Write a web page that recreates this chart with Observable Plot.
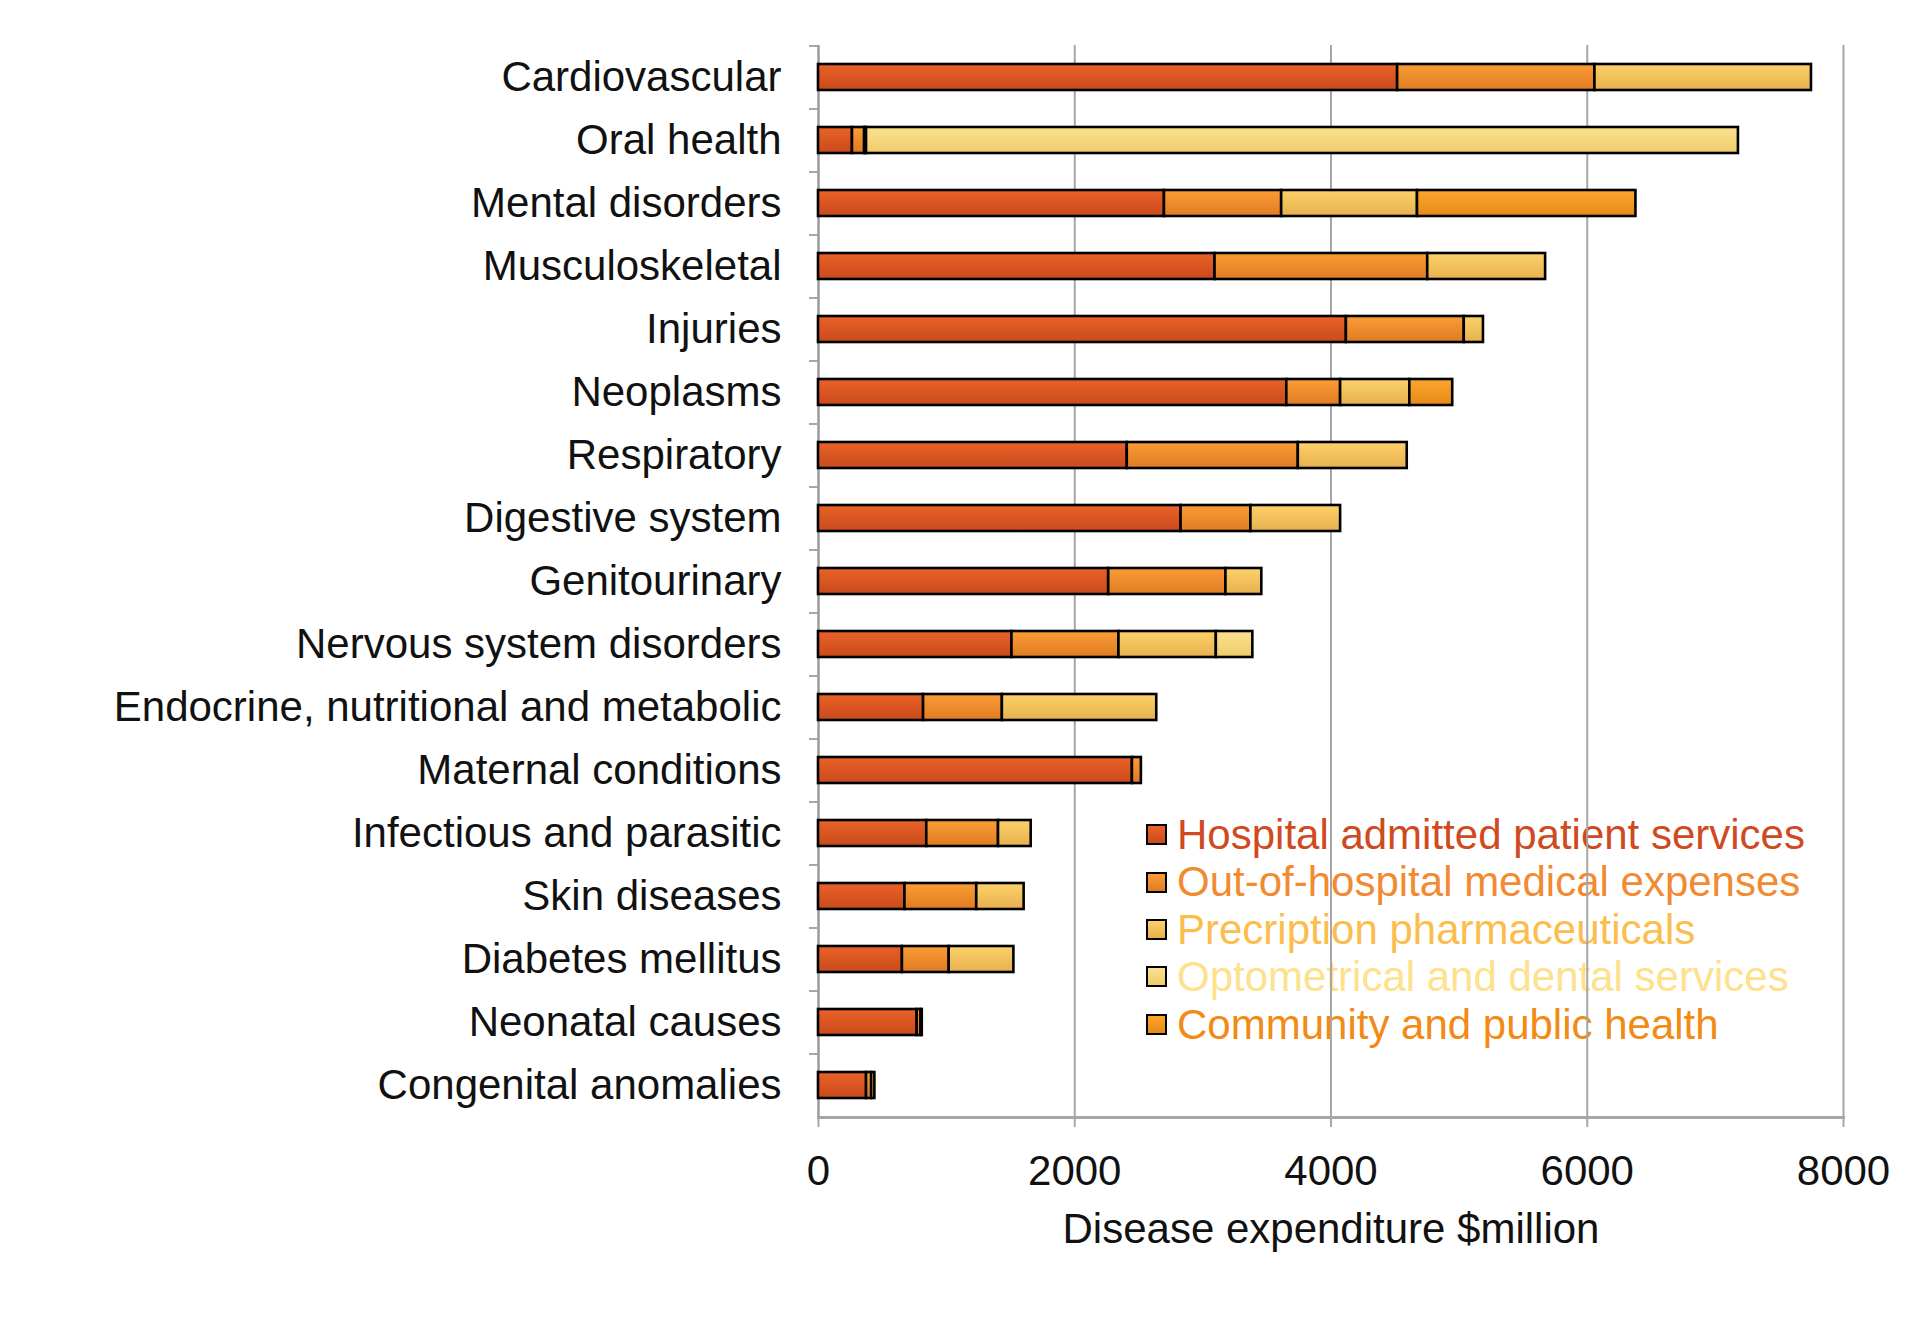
<!DOCTYPE html>
<html><head><meta charset="utf-8">
<script src="https://cdn.jsdelivr.net/npm/d3@7"></script>
<script src="https://cdn.jsdelivr.net/npm/@observablehq/plot@0.6"></script>
<style>
html,body{margin:0;padding:0;background:#fff;}
#wrap{position:relative;width:1920px;height:1319px;overflow:hidden;}
#chart{position:absolute;left:0;top:0;z-index:1;}
#legend{position:absolute;left:1146px;top:811px;z-index:0;font-family:"Liberation Sans",Arial,sans-serif;font-size:42px;}
.row{display:flex;align-items:center;height:47.4px;line-height:47.4px;white-space:nowrap;}
.sw{width:21px;height:21px;box-sizing:border-box;border:2.5px solid #000;margin-right:10px;flex:none;}
</style>
</head><body><div id="wrap"><div id="legend"></div><div id="chart"></div></div>
<script>
const categories = ["Cardiovascular","Oral health","Mental disorders","Musculoskeletal","Injuries","Neoplasms","Respiratory","Digestive system","Genitourinary","Nervous system disorders","Endocrine, nutritional and metabolic","Maternal conditions","Infectious and parasitic","Skin diseases","Diabetes mellitus","Neonatal causes","Congenital anomalies"];
const seriesNames = ["Hospital admitted patient services","Out-of-hospital medical expenses","Precription pharmaceuticals","Optometrical and dental services","Community and public health"];
const hospital      = [4520, 265, 2700, 3095, 4120, 3655, 2410, 2830, 2265, 1510,  820, 2450, 845, 675, 655, 770, 375];
const outOfHospital = [1540,  95,  915, 1660,  920,  420, 1335,  545,  915,  835,  615,   70, 560, 560, 365,  30,  40];
const pharma        = [1690,  15, 1060,  920,  150,  540,  850,  700,  280,  760, 1205,    0, 255, 370, 505,  10,  25];
const optometrical  = [   0,6805,    0,    0,    0,    0,    0,    0,    0,  285,    0,    0,   0,   0,   0,   0,   0];
const community     = [   0,   0, 1705,    0,    0,  335,    0,    0,    0,    0,    0,    0,   0,   0,   0,   0,   0];
const xTicks = [0, 2000, 4000, 6000, 8000];
const xLabel = "Disease expenditure $million";

const seriesValues = [hospital, outOfHospital, pharma, optometrical, community];
const gradTop    = ["#ea6228","#fb9d36","#fdd26a","#fbe18e","#fca62c"];
const gradBottom = ["#c94a1c","#df7b22","#e6b04e","#efcc6c","#e7891a"];
const textColors = ["#cf4a20","#f28a32","#fbbd4c","#fde18c","#f28a14"];

const data = [];
categories.forEach((c, i) => {
  seriesValues.forEach((arr, k) => {
    if (arr[i] > 0) data.push({category: c, series: seriesNames[k], value: arr[i]});
  });
});

const W = 1920, H = 1319, mt = 45, mb = 202, ml = 818, mr = 77;
const step = (H - mt - mb) / categories.length;
const font = "Liberation Sans, Arial, sans-serif";

const plot = Plot.plot({
  width: W, height: H, marginLeft: ml, marginRight: mr, marginTop: mt, marginBottom: mb,
  style: {background: "transparent", fontFamily: font, fontSize: "42px", color: "#111", overflow: "visible"},
  x: {domain: [0, 8000]},
  y: {domain: categories, paddingInner: 0.59, paddingOuter: 0.295},
  color: {domain: seriesNames, range: seriesNames.map((d, i) => `url(#g${i})`)},
  marks: [
    Plot.gridX(xTicks, {stroke: "#a6a6a6", strokeOpacity: 1, strokeWidth: 2}),
    Plot.axisX(xTicks, {tickSize: 10, tickPadding: 28, stroke: "#a6a6a6", strokeWidth: 2, fill: "#111", label: null, fontSize: 42, tickFormat: d => String(d)}),
    Plot.frame({anchor: "bottom", stroke: "#a6a6a6", strokeWidth: 3}),
    Plot.ruleX([0], {stroke: "#999", strokeWidth: 2}),
    Plot.axisY({tickSize: 9, tickFormat: () => "", dy: -step / 2, stroke: "#a6a6a6", strokeWidth: 2, label: null}),
    Plot.axisY({tickSize: 0, tickPadding: 37, label: null, fontSize: 42, fill: "#111"}),
    Plot.barX(data, {x: "value", y: "category", fill: "series", stroke: "#000", strokeWidth: 2.6}),
    Plot.text([xLabel], {frameAnchor: "bottom", dy: 125, text: d => d, fontSize: 42, fill: "#111"})
  ]
});

const svg = d3.select(plot);
const defs = svg.insert("defs", ":first-child");
seriesNames.forEach((s, i) => {
  const g = defs.append("linearGradient").attr("id", `g${i}`).attr("x1", 0).attr("y1", 0).attr("x2", 0).attr("y2", 1);
  g.append("stop").attr("offset", "0%").attr("stop-color", gradTop[i]);
  g.append("stop").attr("offset", "100%").attr("stop-color", gradBottom[i]);
});
document.getElementById("chart").appendChild(plot);

const legend = d3.select("#legend");
seriesNames.forEach((s, i) => {
  const row = legend.append("div").attr("class", "row");
  row.append("div").attr("class", "sw").style("background", `linear-gradient(${gradTop[i]}, ${gradBottom[i]})`);
  row.append("span").style("color", textColors[i]).text(s);
});
</script>
</body></html>
